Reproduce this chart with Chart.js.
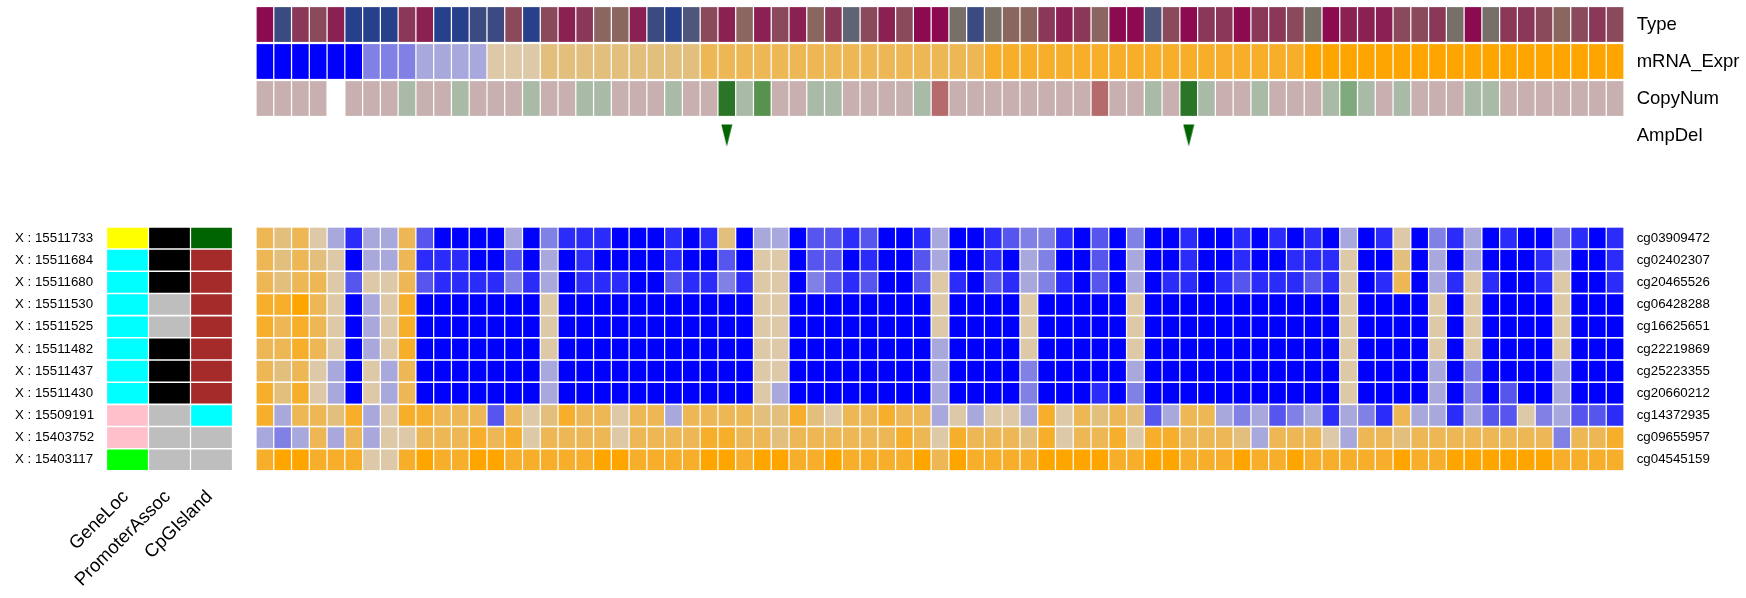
<!DOCTYPE html>
<html>
<head>
<meta charset="utf-8">
<title>Methylation heatmap</title>
<script src="https://cdn.jsdelivr.net/npm/chart.js@4/dist/chart.umd.min.js"></script>
<style>
  html, body { margin: 0; padding: 0; background: #fff; }
  body { width: 1746px; height: 598px; overflow: hidden; position: relative; }
  canvas { position: absolute; }
  #track-chart { left: 256px; top: 0; }
  #meth-chart { left: 256px; top: 220px; }
  #anno-chart { left: 0; top: 220px; }
</style>
</head>
<body>
<canvas id="track-chart" width="1490" height="160"></canvas>
<canvas id="meth-chart" width="1490" height="260"></canvas>
<canvas id="anno-chart" width="240" height="378"></canvas>
<script>
// labels
const trackLabels = ['Type', 'mRNA_Expr', 'CopyNum', 'AmpDel'];
const probeIds = ['cg03909472', 'cg02402307', 'cg20465526', 'cg06428288', 'cg16625651', 'cg22219869',
  'cg25223355', 'cg20660212', 'cg14372935', 'cg09655957', 'cg04545159'];
const probeLocs = ['X : 15511733', 'X : 15511684', 'X : 15511680', 'X : 15511530', 'X : 15511525', 'X : 15511482',
  'X : 15511437', 'X : 15511430', 'X : 15509191', 'X : 15403752', 'X : 15403117'];
const annoNames = ['GeneLoc', 'PromoterAssoc', 'CpGIsland'];

// sample tracks, one value per sample (binned levels)
const typeLevel = [
  0,8,2,3,1,9,9,9,2,1,9,9,8,8,3,9,3,1,2,4,4,1,8,9,7,3,1,4,
  1,3,1,4,2,6,3,1,3,0,0,5,8,5,4,4,2,1,2,4,0,0,7,3,0,2,2,0,
  2,2,3,5,0,1,1,1,3,3,2,5,0,5,2,2,3,4,3,2,3
];
const mrnaLevel = [
  0,0,0,0,0,0,3,3,3,4,4,4,4,5,5,5,6,6,6,6,6,6,6,6,6,7,7,7,
  7,7,7,7,7,7,7,7,7,7,7,7,7,8,8,8,8,8,8,8,8,8,8,8,8,8,8,8,
  8,8,8,9,9,9,9,9,9,9,9,9,9,9,9,9,9,9,9,9,9
];
const copyNumLevel = [
  4,4,4,4,null,4,4,4,3,4,4,3,4,4,4,3,4,4,3,3,4,4,4,3,4,4,0,3,
  1,4,4,3,3,4,4,4,4,3,5,4,4,4,4,4,4,4,4,5,4,4,3,4,0,3,4,4,
  3,4,4,4,3,2,3,4,3,4,4,4,3,3,4,4,4,4,4,4,4
];
const ampDel = [
  0,0,0,0,0,0,0,0,0,0,0,0,0,0,0,0,0,0,0,0,0,0,0,0,0,0,1,0,
  0,0,0,0,0,0,0,0,0,0,0,0,0,0,0,0,0,0,0,0,0,0,0,0,1,0,0,0,
  0,0,0,0,0,0,0,0,0,0,0,0,0,0,0,0,0,0,0,0,0
];

// methylation levels 0 (blue) .. 9 (orange), one row per probe
const methylation = [
  [7,6,7,5,4,1,4,4,7,2,0,0,0,0,4,0,3,1,1,1,0,0,0,1,0,1,6,0,
   4,4,0,2,2,1,2,0,0,1,4,0,0,1,2,3,3,1,0,2,0,3,0,0,1,0,0,1,
   0,1,0,1,0,4,0,1,5,0,3,1,4,0,1,0,0,3,1,0,1],
  [7,6,7,6,5,0,4,4,7,1,1,1,0,0,2,0,4,0,1,0,0,0,0,1,0,0,2,0,
   5,5,0,2,2,0,1,0,0,2,4,0,0,1,0,4,3,0,0,2,0,4,0,0,1,0,0,1,
   0,0,1,1,1,5,0,0,6,0,4,0,4,0,0,0,1,4,0,0,1],
  [7,6,7,7,5,2,5,5,7,2,1,1,1,1,3,1,4,0,1,1,1,0,0,2,1,1,3,1,
   5,5,0,3,2,1,2,0,0,2,5,1,0,2,1,4,3,1,0,2,0,4,0,1,1,0,1,2,
   1,1,1,2,1,5,0,1,7,0,4,1,5,1,0,0,1,5,0,0,1],
  [8,8,9,7,5,0,4,5,8,0,0,0,0,0,0,0,5,0,0,0,0,0,0,0,0,0,0,0,
   5,5,0,0,0,0,0,0,0,0,5,0,0,0,0,5,0,0,0,0,0,5,0,0,0,0,0,0,
   0,0,0,0,0,5,0,0,0,0,5,0,5,0,0,0,0,5,0,0,0],
  [8,7,8,7,5,0,4,5,8,0,0,0,0,0,0,0,5,0,0,0,0,0,0,0,0,0,0,0,
   5,5,0,0,0,0,0,0,0,0,5,0,0,0,0,5,0,0,0,0,0,5,0,0,0,0,0,0,
   0,0,0,0,0,5,0,0,0,0,5,0,5,0,0,0,0,5,0,0,0],
  [7,7,8,7,5,0,4,5,8,0,0,0,0,0,0,0,5,0,0,0,0,0,0,0,0,0,0,0,
   5,5,0,0,0,0,0,0,0,0,4,0,0,0,0,5,0,0,0,0,0,5,0,0,0,0,0,0,
   0,0,0,0,0,5,0,0,0,0,5,0,5,0,0,0,0,5,0,0,0],
  [7,6,7,5,4,0,5,4,7,0,0,0,0,0,0,0,4,0,0,0,0,0,0,0,0,0,0,0,
   5,5,0,0,0,0,0,0,0,0,4,0,0,0,0,3,0,0,0,0,0,4,0,0,0,0,0,0,
   0,0,0,0,0,5,0,0,0,0,4,0,3,0,0,0,0,4,0,0,0],
  [8,6,8,5,4,0,5,4,7,0,0,0,0,0,0,0,4,0,0,0,0,0,0,0,0,0,0,0,
   5,4,0,0,0,0,0,0,0,0,4,0,0,0,0,3,0,0,0,1,0,3,0,0,0,0,0,0,
   0,0,0,0,0,5,0,0,0,0,4,0,3,0,2,0,0,4,0,0,0],
  [8,4,7,7,6,8,4,5,8,8,7,7,7,2,7,5,6,8,7,7,5,7,7,4,7,7,7,7,
   6,6,8,6,5,7,7,8,7,7,4,5,4,5,5,4,8,5,7,6,7,6,2,4,7,7,4,3,
   4,2,3,4,1,4,3,1,7,4,4,1,4,2,2,5,3,4,2,2,1],
  [4,3,4,7,4,7,4,5,5,7,7,7,8,7,8,5,7,7,7,7,5,7,7,7,7,8,8,7,
   7,6,7,7,7,7,7,7,8,7,5,8,7,7,7,6,8,5,7,7,8,5,8,8,7,7,7,6,
   4,7,7,7,5,4,7,7,6,7,7,7,7,7,7,7,7,3,7,7,8],
  [8,9,9,8,8,8,5,5,8,9,8,8,9,9,8,8,8,8,8,9,9,8,8,8,8,9,9,8,
   9,9,8,8,9,8,8,8,8,9,7,9,8,8,8,8,9,9,9,9,8,8,9,9,8,8,8,9,
   8,8,9,8,8,8,8,8,9,8,8,9,9,9,9,9,9,8,8,8,8]
];

// probe annotation codes, one per probe
const geneLoc = [0,1,1,1,1,1,1,1,2,2,3];
const promoterAssoc = [1,1,1,0,0,1,1,1,0,0,0];
const cpgIsland = [0,1,1,1,1,1,1,1,2,3,3];

// palettes
const heatColors = ['#0000FF', '#2B2BFA', '#5656EE', '#8080E5', '#A8A8DC',
  '#DDC9A8', '#E3BF7E', '#EEB755', '#F7AE2A', '#FFA500'];
const typeColors = ['#8B0A50', '#8B2152', '#8B3757', '#8B4A5C', '#8B6660',
  '#767068', '#5F6475', '#4E577B', '#3B4B82', '#27408B'];
const copyColors = ['#2A7528', '#57934F', '#80A97D', '#A9BAA7', '#C8B0B0', '#B56B6B'];
const geneLocColors = ['#FFFF00', '#00FFFF', '#FFC0CB', '#00FF00'];
const promoterColors = ['#BEBEBE', '#000000'];
const cpgColors = ['#006400', '#A52A2A', '#00FFFF', '#BEBEBE'];

const LABEL_FONT = { family: '"Liberation Sans", Arial, sans-serif', size: 13.3 };
const TRACK_FONT = { family: '"Liberation Sans", Arial, sans-serif', size: 18.5 };

Chart.defaults.color = '#000';
Chart.defaults.animation = false;

// one row of cells as floating bars around y = row
function rowDataset(values, row, colorOf, halfHeight) {
  return {
    data: values.map(function (v) {
      return v === null ? null : [row - halfHeight, row + halfHeight];
    }),
    backgroundColor: values.map(colorOf),
    borderWidth: 0,
    grouped: false,
    barPercentage: 0.93,
    categoryPercentage: 1
  };
}

function fromPalette(palette) {
  return function (v) { return v === null ? 'rgba(0,0,0,0)' : palette[v]; };
}

function yAxis(labels, font, position, padding, width, crossAlign) {
  return {
    type: 'linear',
    position: position,
    reverse: true,
    min: -0.5,
    max: labels.length - 0.5,
    grid: { display: false, drawTicks: false },
    border: { display: false },
    afterBuildTicks: function (axis) {
      axis.ticks = labels.map(function (l, i) { return { value: i }; });
    },
    afterFit: function (axis) {
      // cells fill the whole axis, no room needed for the end labels
      axis.width = width;
      axis.paddingTop = 0;
      axis.paddingBottom = 0;
    },
    ticks: {
      autoSkip: false,
      font: font,
      padding: padding,
      crossAlign: crossAlign,
      callback: function (value) { return labels[value]; }
    }
  };
}

const plainOptions = {
  responsive: false,
  maintainAspectRatio: false,
  plugins: { legend: { display: false }, tooltip: { enabled: false } }
};

const sampleLabels = typeLevel.map(function (v, i) { return 'S' + (i + 1); });

// narrow down-pointing marker for AmpDel
function ampMarker() {
  const c = document.createElement('canvas');
  c.width = 12;
  c.height = 23;
  const g = c.getContext('2d');
  g.fillStyle = '#006400';
  g.beginPath();
  g.moveTo(0.5, 0.5);
  g.lineTo(11.5, 0.5);
  g.lineTo(6, 22.5);
  g.closePath();
  g.fill();
  return c;
}

new Chart(document.getElementById('track-chart'), {
  type: 'bar',
  data: {
    labels: sampleLabels,
    datasets: [
      rowDataset(typeLevel, 0, fromPalette(typeColors), 0.47),
      rowDataset(mrnaLevel, 1, fromPalette(heatColors), 0.47),
      rowDataset(copyNumLevel, 2, fromPalette(copyColors), 0.47),
      {
        type: 'line',
        showLine: false,
        data: ampDel.map(function (v) { return v ? 3 : null; }),
        pointStyle: ampMarker(),
        pointRadius: 6
      }
    ]
  },
  options: Object.assign({}, plainOptions, {
    layout: { autoPadding: false, padding: { top: 6, bottom: 6 } },
    scales: {
      x: { display: false, offset: true },
      y: yAxis(trackLabels, TRACK_FONT, 'right', 12.7, 122, 'near')
    }
  })
});

new Chart(document.getElementById('meth-chart'), {
  type: 'bar',
  data: {
    labels: sampleLabels,
    datasets: methylation.map(function (values, row) {
      return rowDataset(values, row, fromPalette(heatColors), 0.465);
    })
  },
  options: Object.assign({}, plainOptions, {
    layout: { autoPadding: false, padding: { top: 6.9, bottom: 9.1 } },
    scales: {
      x: { display: false, offset: true },
      y: yAxis(probeIds, LABEL_FONT, 'right', 12.7, 122, 'near')
    }
  })
});

const annoColorsByTrack = [geneLocColors, promoterColors, cpgColors];

new Chart(document.getElementById('anno-chart'), {
  type: 'bar',
  data: {
    labels: annoNames,
    datasets: probeLocs.map(function (loc, row) {
      const codes = [geneLoc[row], promoterAssoc[row], cpgIsland[row]];
      const ds = rowDataset(codes, row, function (v, col) {
        return annoColorsByTrack[col][v];
      }, 0.465);
      ds.barPercentage = 0.97;
      return ds;
    })
  },
  options: Object.assign({}, plainOptions, {
    layout: { autoPadding: false, padding: { left: 15, right: 7.5, top: 6.9 } },
    scales: {
      x: {
        offset: true,
        grid: { display: false, drawTicks: false },
        border: { display: false },
        afterFit: function (axis) {
          axis.height = 127.1;
          axis.paddingLeft = 0;
          axis.paddingRight = 0;
        },
        ticks: {
          autoSkip: false,
          font: TRACK_FONT,
          minRotation: 45,
          maxRotation: 45,
          padding: 15,
          labelOffset: -1.8
        }
      },
      y: yAxis(probeLocs, LABEL_FONT, 'left', 12.5, 91.5, 'far')
    }
  })
});
</script>
</body>
</html>
